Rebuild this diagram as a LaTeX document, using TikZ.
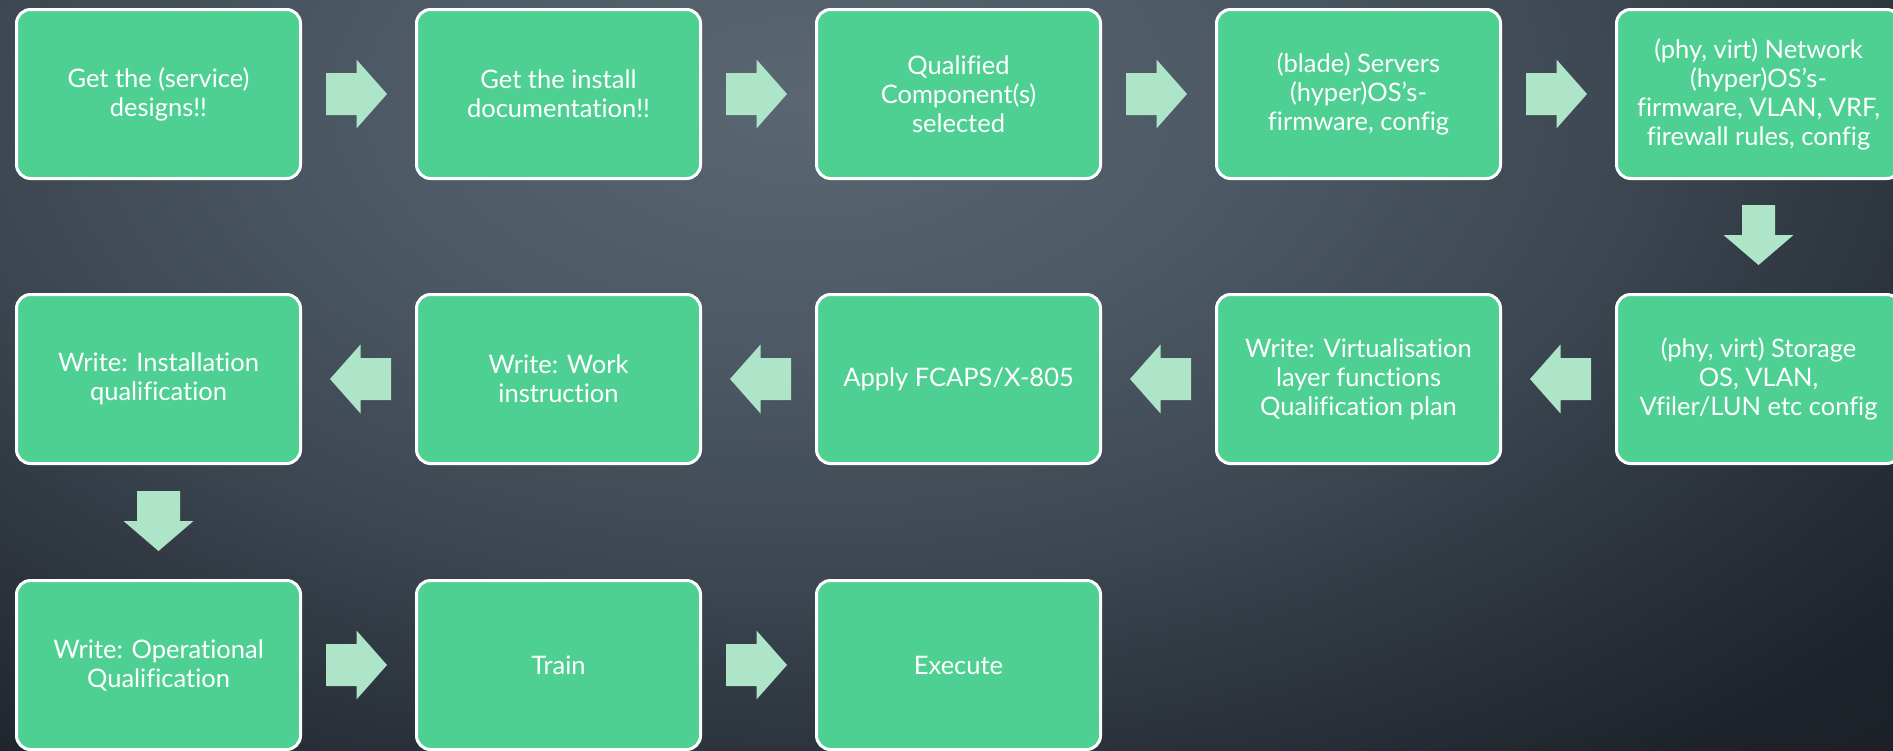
\documentclass[tikz,border=0pt]{standalone}
\usepackage{fontspec}
\setmainfont[Ligatures=CommonOff]{Lato}
\usetikzlibrary{calc}

\definecolor{boxfill}{HTML}{4FD093}
\definecolor{arrowfill}{HTML}{AEE4C7}
\definecolor{bgA}{HTML}{5A6771}
\definecolor{bgB}{HTML}{4C5863}
\definecolor{bgC}{HTML}{3B4650}
\definecolor{bgD}{HTML}{2A313A}
\definecolor{bgE}{HTML}{1E232B}
\definecolor{bgF}{HTML}{1A1D24}

% soft slate background, lightest near the top middle
\pgfdeclareradialshading{bgshade}{\pgfpoint{0bp}{0bp}}{%
  color(0bp)=(bgA); color(4.375bp)=(bgB); color(8.125bp)=(bgC);
  color(11.25bp)=(bgD); color(13.75bp)=(bgE); color(16.25bp)=(bgF);
  color(50bp)=(bgF)}

\begin{document}
\begin{tikzpicture}[x=1pt,y=-1pt,
  stepbox/.style={draw=white, line width=3pt, fill=boxfill,
    rounded corners=14pt, minimum width=284pt, minimum height=169pt,
    inner sep=0pt, text=white, align=center,
    font=\fontsize{25.5}{29}\selectfont},
  blockarrow/.style={fill=arrowfill},
  pics/rightarrow/.style={code={
    \fill[blockarrow] (-30.5,-21) -- (0,-21) -- (0,-34.5) -- (30.5,0)
      -- (0,34.5) -- (0,21) -- (-30.5,21) -- cycle;}},
  pics/leftarrow/.style={code={
    \fill[blockarrow] (30.5,-21) -- (0,-21) -- (0,-34.5) -- (-30.5,0)
      -- (0,34.5) -- (0,21) -- (30.5,21) -- cycle;}},
  pics/downarrow/.style={code={
    \fill[blockarrow] (-#1,-30) -- (#1,-30) -- (#1,0) -- (35,0)
      -- (0,30) -- (-35,0) -- (-#1,0) -- cycle;}},
]
\useasboundingbox (0,0) rectangle (1893,750);
\begin{scope}
  \clip (0,0) rectangle (1893,750);
  \shade[shading=bgshade] (800,100) ellipse [x radius=2600, y radius=1500];

  % row 1, left to right
  \node[stepbox] (n1) at (158.5,94) {Get the (service)\\designs!!};
  \node[stepbox] (n2) at (558.5,94) {Get the install\\documentation!!};
  \node[stepbox] (n3) at (958.5,94) {Qualified\\Component(s)\\selected};
  \node[stepbox] (n4) at (1358.5,94) {(blade) Servers\\(hyper)OS’s-\\firmware, config};
  \node[stepbox] (n5) at (1758.5,94) {(phy, virt) Network\\(hyper)OS’s-\\firmware, VLAN, VRF,\\firewall rules, config};

  % row 2, right to left
  \node[stepbox] (n6) at (1758.5,379) {(phy, virt) Storage\\OS, VLAN,\\Vfiler/LUN etc config};
  \node[stepbox] (n7) at (1358.5,379) {Write: Virtualisation\\layer functions\\Qualification plan};
  \node[stepbox] (n8) at (958.5,379) {Apply FCAPS/X-805};
  \node[stepbox] (n9) at (558.5,379) {Write: Work\\instruction};
  \node[stepbox] (n10) at (158.5,379) {Write: Installation\\qualification};

  % row 3, left to right
  \node[stepbox] (n11) at (158.5,665) {Write: Operational\\Qualification};
  \node[stepbox] (n12) at (558.5,665) {Train};
  \node[stepbox] (n13) at (958.5,665) {Execute};

  % block arrows between consecutive steps
  \pic at ($(n1.east)!0.5!(n2.west)+(-2,0)$) {rightarrow};
  \pic at ($(n2.east)!0.5!(n3.west)+(-2,0)$) {rightarrow};
  \pic at ($(n3.east)!0.5!(n4.west)+(-2,0)$) {rightarrow};
  \pic at ($(n4.east)!0.5!(n5.west)+(-2,0)$) {rightarrow};
  \pic at ($(n5.south)!0.5!(n6.north)+(0,-1.5)$) {downarrow=16.5};
  \pic at ($(n6.west)!0.5!(n7.east)+(2,0)$) {leftarrow};
  \pic at ($(n7.west)!0.5!(n8.east)+(2,0)$) {leftarrow};
  \pic at ($(n8.west)!0.5!(n9.east)+(2,0)$) {leftarrow};
  \pic at ($(n9.west)!0.5!(n10.east)+(2,0)$) {leftarrow};
  \pic at ($(n10.south)!0.5!(n11.north)+(0,-1)$) {downarrow=21.5};
  \pic at ($(n11.east)!0.5!(n12.west)+(-2,0)$) {rightarrow};
  \pic at ($(n12.east)!0.5!(n13.west)+(-2,0)$) {rightarrow};
\end{scope}
\end{tikzpicture}
\end{document}
